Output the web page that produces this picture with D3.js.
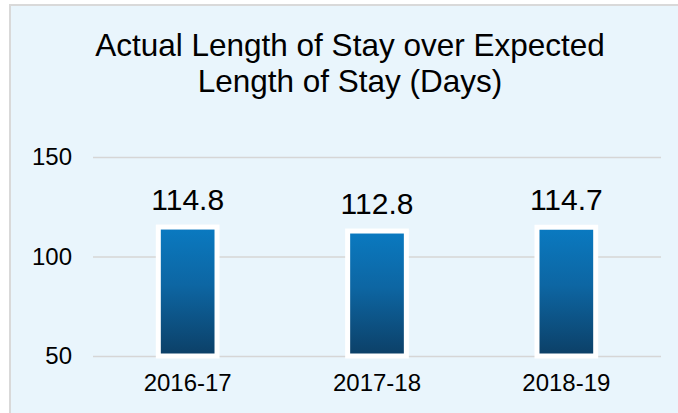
<!DOCTYPE html>
<html>
<head>
<meta charset="utf-8">
<script src="https://d3js.org/d3.v7.min.js"></script>
<style>
  body { margin: 0; background: #FFFFFF; }
  text { font-family: "Liberation Sans", Arial, sans-serif; fill: #000000; }
  .grid line { stroke: #D6D6D6; stroke-width: 1.5; }
</style>
</head>
<body>
<svg id="chart"></svg>
<script>
const WIDTH  = 678;
const HEIGHT = 413;
const MARGIN = { top: 157, right: 17, bottom: 57, left: 93 };
const INNER_WIDTH  = WIDTH - MARGIN.left - MARGIN.right;
const INNER_HEIGHT = HEIGHT - MARGIN.top - MARGIN.bottom;

// data
const years  = ['2016-17', '2017-18', '2018-19'];
const values = [114.8, 112.8, 114.7];
const yTicks = [50, 100, 150];
const titleLines = ['Actual Length of Stay over Expected', 'Length of Stay (Days)'];

const svg = d3.select('#chart')
  .attr('width', WIDTH)
  .attr('height', HEIGHT);

// panel background with border on top/left
svg.append('rect')
  .attr('x', 10).attr('y', 5)
  .attr('width', WIDTH + 10).attr('height', HEIGHT + 10)
  .style('fill', '#E9F5FC')
  .style('stroke', '#D9D9D9')
  .style('stroke-width', 2);

const defs = svg.append('defs');
const grad = defs.append('linearGradient')
  .attr('id', 'barGrad')
  .attr('x1', 0).attr('y1', 0).attr('x2', 0).attr('y2', 1);
grad.append('stop').attr('offset', '0%').attr('stop-color', '#0A7AC1');
grad.append('stop').attr('offset', '45%').attr('stop-color', '#0D66A3');
grad.append('stop').attr('offset', '100%').attr('stop-color', '#0C3F66');

// title
svg.append('text')
  .attr('x', 350)
  .attr('text-anchor', 'middle')
  .style('font-size', '31.5px')
  .selectAll('tspan')
  .data(titleLines)
  .join('tspan')
    .attr('x', 350)
    .attr('y', (d, i) => 56 + i * 36)
    .text(d => d);

const g = svg.append('g')
  .attr('transform', 'translate(' + MARGIN.left + ',' + MARGIN.top + ')');

const x = d3.scaleBand()
  .domain(years)
  .range([0, INNER_WIDTH])
  .padding(0);

const y = d3.scaleLinear()
  .domain([50, 150])
  .range([INNER_HEIGHT, 0]);

// gridlines
g.append('g')
  .attr('class', 'grid')
  .call(d3.axisLeft(y).tickValues(yTicks).tickSize(-INNER_WIDTH).tickFormat(''))
  .call(a => a.select('.domain').remove());

// y tick labels
g.append('g')
  .call(d3.axisLeft(y).tickValues(yTicks).tickSize(0).tickPadding(21))
  .call(a => a.select('.domain').remove())
  .call(a => a.selectAll('text')
    .style('font-size', '24px')
    .style('font-family', '"Liberation Sans", Arial, sans-serif')
    .attr('fill', '#000'));

// x labels
g.append('g')
  .attr('transform', 'translate(0,' + INNER_HEIGHT + ')')
  .call(d3.axisBottom(x).tickSize(0).tickPadding(18))
  .call(a => a.select('.domain').remove())
  .call(a => a.selectAll('text')
    .style('font-size', '24px')
    .style('font-family', '"Liberation Sans", Arial, sans-serif')
    .attr('fill', '#000'));

const barW = x.bandwidth() * 0.31;

g.selectAll('.bar')
  .data(values)
  .join('rect')
    .attr('class', 'bar')
    .attr('x', (d, i) => x(years[i]) + x.bandwidth() / 2 - barW / 2)
    .attr('y', d => y(d))
    .attr('width', barW)
    .attr('height', d => y(50) - y(d))
    .style('fill', 'url(#barGrad)')
    .style('stroke', '#FFFFFF')
    .style('stroke-width', 5);

g.selectAll('.val')
  .data(values)
  .join('text')
    .attr('class', 'val')
    .attr('x', (d, i) => x(years[i]) + x.bandwidth() / 2)
    .attr('y', d => y(d) - 17)
    .attr('text-anchor', 'middle')
    .style('font-size', '30px')
    .text(d => d.toFixed(1));
</script>
</body>
</html>
